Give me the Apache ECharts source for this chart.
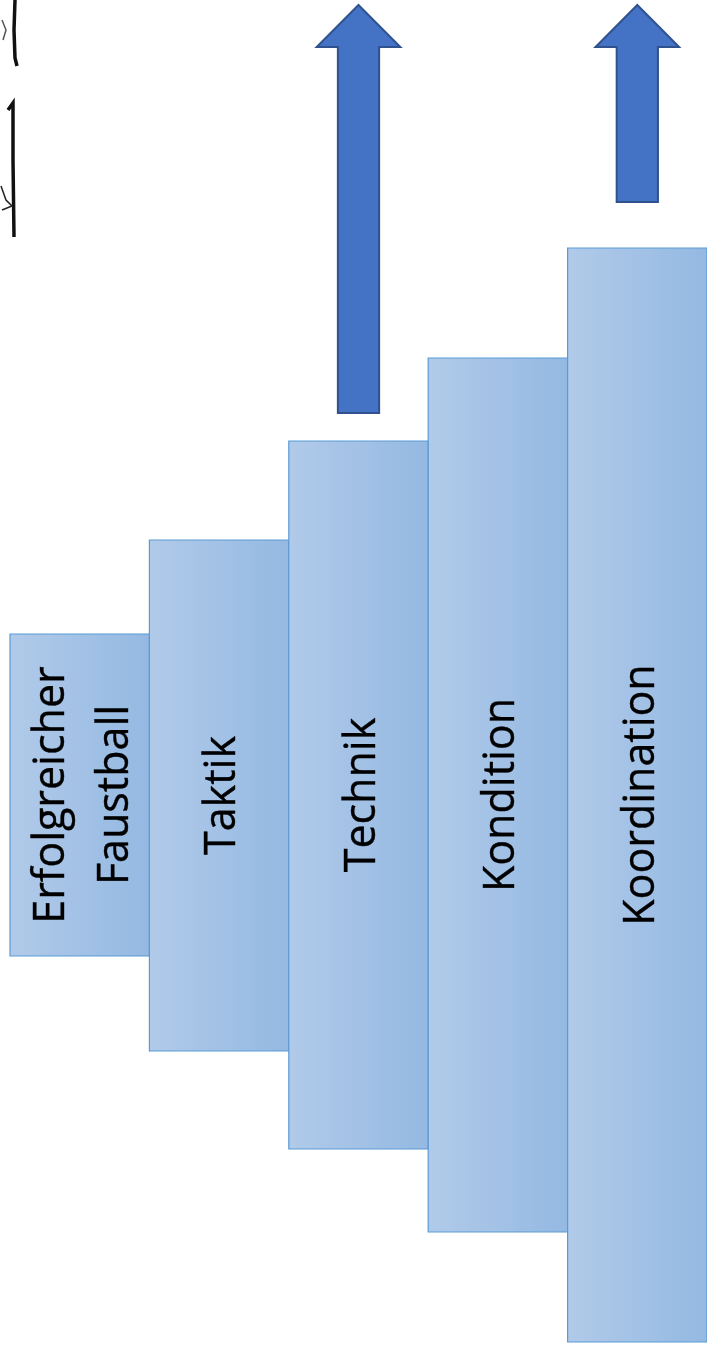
<!DOCTYPE html>
<html>
<head>
<meta charset="utf-8">
<script src="https://cdn.jsdelivr.net/npm/echarts@6/dist/echarts.min.js"></script>
<style>
html,body{margin:0;padding:0;background:#fff;}
#chart{width:707px;height:1347px;}
</style>
</head>
<body>
<div id="chart"></div>
<script>
// Stufen (links oben → rechts unten)
const categories = ['Erfolgreicher\nFaustball', 'Taktik', 'Technik', 'Kondition', 'Koordination'];
const levelTop = [634, 540, 441, 358, 248];
const levelBottom = [956, 1051, 1149, 1232, 1342];
// Pfeile
const arrowCategories = ['Technik', 'Koordination'];
const arrowTip = [5, 5];
const arrowBase = [413, 202];

const chart = echarts.init(document.getElementById('chart'), null, {renderer: 'canvas'});

const stepData = categories.map((c, i) => [i, levelTop[i], levelBottom[i], c]);
const arrowData = arrowCategories.map((c, i) => [categories.indexOf(c), arrowTip[i], arrowBase[i]]);

chart.setOption({
  animation: false,
  grid: {left: 10, top: 0, width: 700, height: 1347},
  xAxis: {type: 'category', data: categories, show: false, boundaryGap: true},
  yAxis: {type: 'value', min: 0, max: 1347, inverse: true, show: false},
  graphic: [
    {type: 'polyline', shape: {points: [[15, 0], [14, 30], [15, 58], [17, 66]]}, style: {stroke: '#111', lineWidth: 3.5, fill: null}},
    {type: 'polyline', shape: {points: [[8, 110], [13, 103], [13, 160], [14, 237]]}, style: {stroke: '#111', lineWidth: 3.5, fill: null}},
    {type: 'polyline', shape: {points: [[1, 186], [6, 200], [12, 206], [2, 210]]}, style: {stroke: '#222', lineWidth: 1.5, fill: null}},
    {type: 'polyline', shape: {points: [[2, 20], [6, 30], [3, 40]]}, style: {stroke: '#555', lineWidth: 1.5, fill: null}}
  ],
  series: [
    {
      type: 'custom',
      data: stepData,
      renderItem: function (params, api) {
        const top = api.coord([api.value(0), api.value(1)]);
        const bot = api.coord([api.value(0), api.value(2)]);
        const w = api.size([1, 0])[0];
        const x = top[0] - w / 2;
        const label = categories[api.value(0)];
        return {
          type: 'group',
          children: [
            {
              type: 'rect',
              shape: {x: x, y: top[1], width: w, height: bot[1] - top[1]},
              style: {
                fill: new echarts.graphic.LinearGradient(0, 0, 1, 0, [
                  {offset: 0, color: '#b1cae9'},
                  {offset: 1, color: '#94b9e2'}
                ]),
                stroke: '#5b9bd5',
                lineWidth: 1.2
              }
            },
            {
              type: 'text',
              x: top[0] + 4,
              y: (top[1] + bot[1]) / 2,
              rotation: Math.PI / 2,
              style: {
                text: label,
                fill: '#000',
                font: '43px "Open Sans"',
                align: 'center',
                verticalAlign: 'middle',
                lineHeight: 64,
                stroke: '#000',
                lineWidth: 0.4
              }
            }
          ]
        };
      }
    },
    {
      type: 'custom',
      data: arrowData,
      z: 3,
      renderItem: function (params, api) {
        const tip = api.coord([api.value(0), api.value(1)]);
        const base = api.coord([api.value(0), api.value(2)]);
        const w = api.size([1, 0])[0];
        const cx = tip[0];
        const hw = w * 0.3;
        const sw = w * 0.148;
        const headLen = 42;
        const yh = tip[1] + headLen;
        return {
          type: 'polygon',
          shape: {points: [
            [cx, tip[1]], [cx + hw, yh], [cx + sw, yh], [cx + sw, base[1]],
            [cx - sw, base[1]], [cx - sw, yh], [cx - hw, yh]
          ]},
          style: {fill: '#4472c4', stroke: '#2f528f', lineWidth: 2}
        };
      }
    }
  ]
});
</script>
</body>
</html>
